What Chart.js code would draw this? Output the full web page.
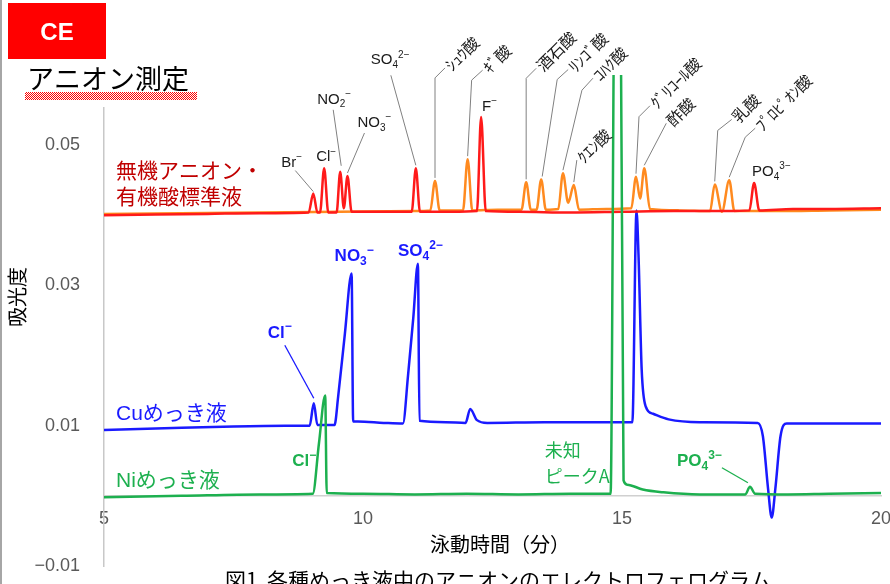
<!DOCTYPE html>
<html>
<head>
<meta charset="utf-8">
<script src="https://cdn.jsdelivr.net/npm/chart.js@4.4.0/dist/chart.umd.min.js"></script>
<style>
  html, body { margin: 0; padding: 0; background: #fff; }
  canvas { display: block; }
</style>
</head>
<body>
<canvas id="myChart" width="890" height="584"></canvas>
<script>
// 軸
const xTicks = [5, 10, 15, 20]
const yTicks = [-0.01, 0.01, 0.03, 0.05]
const yTickLabels = ["−0.01", "0.01", "0.03", "0.05"]

// 無機アニオン標準液 (赤)
const inorgTime = [5.0, 6.0, 7.0, 8.0, 8.95, 9.04, 9.12, 9.17, 9.25, 9.33, 9.49, 9.56, 9.63, 9.70, 9.78, 10.4, 10.94, 11.02, 11.10, 11.7, 12.20, 12.28, 12.37, 13.0, 14.0, 15.0, 16.0, 17.0, 17.46, 17.55, 17.65, 18.3, 19.0, 20.0]
const inorgAbs = [0.0400, 0.0401, 0.0402, 0.0403, 0.0404, 0.0431, 0.0404, 0.0404, 0.0467, 0.0404, 0.0404, 0.0462, 0.0410, 0.0456, 0.0405, 0.0405, 0.0405, 0.0467, 0.0405, 0.0405, 0.0406, 0.0540, 0.0406, 0.0405, 0.0404, 0.0405, 0.0406, 0.0406, 0.0407, 0.0446, 0.0407, 0.0409, 0.0409, 0.0410]

// 有機酸標準液 (橙)
const orgTime = [5.0, 8.0, 11.0, 11.30, 11.39, 11.48, 11.93, 12.02, 12.11, 12.6, 13.06, 13.15, 13.24, 13.35, 13.44, 13.53, 13.77, 13.86, 13.96, 14.07, 14.17, 14.7, 15.18, 15.27, 15.35, 15.43, 15.54, 16.1, 16.70, 16.79, 16.93, 17.07, 17.17, 18.0, 19.0, 20.0]
const orgAbs = [0.0402, 0.0404, 0.0406, 0.0407, 0.0449, 0.0407, 0.0407, 0.0480, 0.0407, 0.0408, 0.0408, 0.0447, 0.0408, 0.0408, 0.0451, 0.0408, 0.0409, 0.0460, 0.0418, 0.0443, 0.0408, 0.0409, 0.0410, 0.0455, 0.0424, 0.0467, 0.0409, 0.0407, 0.0406, 0.0444, 0.0405, 0.0450, 0.0406, 0.0406, 0.0407, 0.0408]

// Cuめっき液
const cuTime = [5.0, 6.0, 7.5, 8.5, 8.97, 9.05, 9.12, 9.45, 9.52, 9.65, 9.78, 9.81, 9.9, 10.4, 10.77, 10.87, 10.97, 11.06, 11.09, 11.6, 11.98, 12.07, 12.2, 12.4, 13.5, 14.5, 15.2, 15.28, 15.32, 15.38, 15.46, 15.6, 15.9, 16.5, 17.62, 17.72, 17.82, 17.89, 17.96, 18.06, 18.18, 19.0, 20.0]
const cuAbs = [0.0094, 0.0096, 0.0099, 0.0100, 0.0100, 0.0132, 0.0101, 0.0101, 0.0141, 0.0231, 0.0317, 0.0106, 0.0106, 0.0104, 0.0103, 0.0172, 0.0253, 0.0331, 0.0107, 0.0105, 0.0104, 0.0124, 0.0108, 0.0104, 0.0105, 0.0105, 0.0105, 0.0407, 0.0340, 0.0180, 0.0127, 0.0117, 0.0109, 0.0105, 0.0104, 0.0085, 0.0010, -0.0031, 0.0010, 0.0085, 0.0103, 0.0103, 0.0103]

// Niめっき液 (未知ピークAは上限を超える)
const niTime = [5.0, 6.5, 8.0, 9.03, 9.15, 9.27, 9.30, 10.0, 11.0, 12.0, 13.0, 14.0, 14.78, 14.86, 14.97, 15.03, 15.1, 15.4, 15.8, 16.5, 17.38, 17.47, 17.57, 18.2, 19.0, 20.0]
const niAbs = [-0.0002, 0.0000, 0.0002, 0.0003, 0.0075, 0.0143, 0.0004, 0.0003, 0.0002, 0.0003, 0.0002, 0.0003, 0.0003, 0.0750, 0.0750, 0.0022, 0.0016, 0.0009, 0.0005, 0.0002, 0.0002, 0.0013, 0.0003, 0.0002, 0.0003, 0.0004]

const JP = '"Noto Sans CJK JP", sans-serif'
const LAT = '"Liberation Sans", "Noto Sans CJK JP", sans-serif'

function toXY(times, vals) {
    return times.map((t, i) => ({ x: t, y: vals[i] }))
}
function valAt(times, vals, t) {
    return vals[times.indexOf(t)]
}

// ラベル (ピークからのずれ, px)
const stdLabels = [
    { f: [["Br", ""], ["−", "sup"]], t: 9.04, dx: -32, dy: -31, lead: [[-18, -23], [0, -2]] },
    { f: [["Cl", ""], ["−", "sup"]], t: 9.25, dx: -8, dy: -11 },
    { f: [["NO", ""], ["2", "sub"], ["−", "sup"]], t: 9.56, dx: -23, dy: -72, lead: [[-7, -62], [1, -6]] },
    { f: [["NO", ""], ["3", "sub"], ["−", "sup"]], t: 9.70, dx: 10, dy: -53, lead: [[17, -43], [0, -3]] },
    { f: [["SO", ""], ["4", "sub"], ["2−", "sup"]], t: 11.02, dx: -45, dy: -108, lead: [[-25, -93], [0, -3]] },
    { f: [["F", ""], ["−", "sup"]], t: 12.28, dx: 1, dy: -10 },
    { f: [["PO", ""], ["4", "sub"], ["3−", "sup"]], t: 17.55, dx: -2, dy: -11 }
]
const orgLabels = [
    { s: "ｼｭｳ酸", t: 11.39, lead: [[10, -113], [0, -103], [0, -3]] },
    { s: "ｷﾞ酸", t: 12.02, lead: [[15, -89], [4, -79], [0, -3]] },
    { s: "酒石酸", t: 13.15, lead: [[10, -114], [0, -104], [0, -3]] },
    { s: "ﾘﾝｺﾞ酸", t: 13.44, lead: [[27, -110], [16, -100], [1, -3]] },
    { s: "ｺﾊｸ酸", t: 13.86, lead: [[30, -95], [19, -83], [0, -3]] },
    { s: "ｸｴﾝ酸", t: 14.07, lead: [[3, -25], [0, -3]] },
    { s: "ｸﾞﾘｺｰﾙ酸", t: 15.27, lead: [[14, -71], [3, -60], [0, -3]] },
    { s: "酢酸", t: 15.43, lead: [[22, -45], [0, -3]] },
    { s: "乳酸", t: 16.79, lead: [[17, -65], [3, -54], [0, -3]] },
    { s: "ﾌﾟﾛﾋﾟｵﾝ酸", t: 17.07, lead: [[26, -52], [16, -43], [0, -3]] }
]
const cuLabels = [
    { f: [["Cl", ""], ["−", "sup"]], t: 9.05, dx: -46, dy: -70, lead: [[-29, -58], [0, -5]] },
    { f: [["NO", ""], ["3", "sub"], ["−", "sup"]], t: 9.78, dx: -17, dy: -17 },
    { f: [["SO", ""], ["4", "sub"], ["2−", "sup"]], t: 11.06, dx: -20, dy: -12 }
]
const niLabels = [
    { f: [["Cl", ""], ["−", "sup"]], t: 9.27, dx: -33, dy: 66 },
    { f: [["PO", ""], ["4", "sub"], ["3−", "sup"]], t: 17.47, dx: -73, dy: -25, lead: [[-28, -19], [-2, -4]] }
]

function drawChem(ctx, parts, x, y, size, bold) {
    let cx = x
    parts.forEach(([txt, k]) => {
        const s = k ? Math.round(size * 0.68) : size
        ctx.font = (bold ? "bold " : "") + s + "px " + LAT
        const dy = k === "sub" ? size * 0.32 : k === "sup" ? -size * 0.36 : 0
        ctx.fillText(txt, cx, y + dy)
        cx += ctx.measureText(txt).width
    })
}

function drawLead(ctx, x0, y0, pts, color, w) {
    ctx.strokeStyle = color
    ctx.lineWidth = w
    ctx.beginPath()
    pts.forEach(([dx, dy], i) => {
        if (i === 0) ctx.moveTo(x0 + dx, y0 + dy)
        else ctx.lineTo(x0 + dx, y0 + dy)
    })
    ctx.stroke()
}

// 軸ラベルの余白をレイアウトに使わせない
function noPad(s) {
    s.paddingLeft = 0
    s.paddingRight = 0
    s.paddingTop = 0
    s.paddingBottom = 0
}

const annotate = {
    id: "annotate",
    afterDraw(chart) {
        const ctx = chart.ctx
        const xs = chart.scales.x
        const ys = chart.scales.y
        ctx.save()
        ctx.textAlign = "left"
        ctx.textBaseline = "middle"

        // 左の枠線
        ctx.fillStyle = "#a6a6a6"
        ctx.fillRect(0, 0, 2, 584)

        // 標準液のラベル
        stdLabels.forEach(l => {
            const px = xs.getPixelForValue(l.t)
            const py = ys.getPixelForValue(valAt(inorgTime, inorgAbs, l.t))
            if (l.lead) drawLead(ctx, px, py, l.lead, "#808080", 1)
            ctx.fillStyle = "#1a1a1a"
            drawChem(ctx, l.f, px + l.dx, py + l.dy, 15, false)
        })
        orgLabels.forEach(l => {
            const px = xs.getPixelForValue(l.t)
            const py = ys.getPixelForValue(valAt(orgTime, orgAbs, l.t))
            drawLead(ctx, px, py, l.lead, "#808080", 1)
            const [ax, ay] = l.lead[0]
            ctx.save()
            ctx.translate(px + ax + 3, py + ay)
            ctx.rotate(-Math.PI / 4)
            ctx.fillStyle = "#1a1a1a"
            ctx.font = "16px " + JP
            ctx.fillText(l.s, 0, 0)
            ctx.restore()
        })

        // Cuめっき液
        cuLabels.forEach(l => {
            const px = xs.getPixelForValue(l.t)
            const py = ys.getPixelForValue(valAt(cuTime, cuAbs, l.t))
            if (l.lead) drawLead(ctx, px, py, l.lead, "#1a1aff", 1.3)
            ctx.fillStyle = "#1a1aff"
            drawChem(ctx, l.f, px + l.dx, py + l.dy, 17, true)
        })

        // Niめっき液
        niLabels.forEach(l => {
            const px = xs.getPixelForValue(l.t)
            const py = ys.getPixelForValue(valAt(niTime, niAbs, l.t))
            if (l.lead) drawLead(ctx, px, py, l.lead, "#1db04f", 1.3)
            ctx.fillStyle = "#1db04f"
            drawChem(ctx, l.f, px + l.dx, py + l.dy, 17, true)
        })
        const ux = xs.getPixelForValue(14.86)
        const uy = ys.getPixelForValue(0)
        ctx.fillStyle = "#1db04f"
        ctx.font = "18px " + JP
        ctx.fillText("未知", ux - 70, uy - 46)
        ctx.fillText("ピークA", ux - 70, uy - 20)

        // 系列名
        const x0 = xs.getPixelForValue(5) + 12
        ctx.font = "21px " + LAT
        ctx.fillStyle = "#c00000"
        const ry = ys.getPixelForValue(inorgAbs[0])
        ctx.fillText("無機アニオン・", x0, ry - 43)
        ctx.fillText("有機酸標準液", x0, ry - 17)
        ctx.fillStyle = "#1a1aff"
        ctx.fillText("Cuめっき液", x0, ys.getPixelForValue(cuAbs[0]) - 16)
        ctx.fillStyle = "#1db04f"
        ctx.fillText("Niめっき液", x0, ys.getPixelForValue(niAbs[0]) - 16)

        // 軸タイトル
        ctx.fillStyle = "#000"
        ctx.textAlign = "center"
        ctx.font = "20px " + JP
        ctx.fillText("泳動時間（分）", 500, 544)
        ctx.save()
        ctx.translate(17, 297)
        ctx.rotate(-Math.PI / 2)
        ctx.fillText("吸光度", 0, 0)
        ctx.restore()

        // 図の説明
        ctx.font = "21px " + JP
        ctx.fillText("図1  各種めっき液中のアニオンのエレクトロフェログラム", 498, 580)

        // 見出し
        ctx.fillStyle = "#fff"
        ctx.fillRect(20, 60, 190, 47)
        ctx.fillStyle = "#ff0000"
        ctx.fillRect(8, 3, 98, 56)
        ctx.fillStyle = "#fff"
        ctx.font = "bold 24px " + LAT
        ctx.fillText("CE", 57, 33)
        ctx.textAlign = "left"
        ctx.fillStyle = "#000"
        ctx.font = "27px " + JP
        ctx.fillText("アニオン測定", 27, 79)
        const pc = document.createElement("canvas")
        pc.width = 2
        pc.height = 2
        const pctx = pc.getContext("2d")
        pctx.fillStyle = "#fff"
        pctx.fillRect(0, 0, 2, 2)
        pctx.fillStyle = "#ff0000"
        pctx.fillRect(0, 0, 1, 1)
        pctx.fillRect(1, 1, 1, 1)
        ctx.fillStyle = ctx.createPattern(pc, "repeat")
        ctx.fillRect(25, 92, 172, 8)

        ctx.restore()
    }
}

const line = (times, vals, color, order) => ({
    data: toXY(times, vals),
    borderColor: color,
    borderWidth: 2.5,
    pointRadius: 0,
    cubicInterpolationMode: "monotone",
    fill: false,
    order: order
})

const ctx = document.getElementById("myChart").getContext("2d")
window.myChart = new Chart(ctx, {
    type: "line",
    data: {
        datasets: [
            line(niTime, niAbs, "#1db04f", 1),
            line(inorgTime, inorgAbs, "#ff1a1a", 2),
            line(orgTime, orgAbs, "#ff8a1f", 3),
            line(cuTime, cuAbs, "#1a1aff", 4)
        ]
    },
    options: {
        responsive: false,
        animation: false,
        devicePixelRatio: 1,
        layout: { padding: { left: 0, right: 9, top: 75, bottom: 18 } },
        plugins: { legend: { display: false }, tooltip: { enabled: false } },
        scales: {
            x: {
                type: "linear",
                min: 5,
                max: 20,
                position: { y: 0 },
                grid: { display: false, drawTicks: false },
                border: { color: "#d0d0d0", width: 1.5 },
                afterBuildTicks: s => { s.ticks = xTicks.map(v => ({ value: v })) },
                afterFit: noPad,
                ticks: { padding: 12, maxRotation: 0, color: "#595959", font: { size: 18, family: LAT } }
            },
            y: {
                min: -0.01,
                max: 0.06,
                afterBuildTicks: s => { s.ticks = yTicks.map(v => ({ value: v })) },
                afterFit: s => { s.width = 104; noPad(s) },
                grid: { display: false, drawTicks: false },
                border: { color: "#c8c8c8", width: 1.5 },
                ticks: {
                    padding: 24,
                    color: "#595959",
                    font: { size: 18, family: LAT },
                    callback: (v, i) => yTickLabels[i]
                }
            }
        }
    },
    plugins: [annotate]
})
</script>
</body>
</html>
